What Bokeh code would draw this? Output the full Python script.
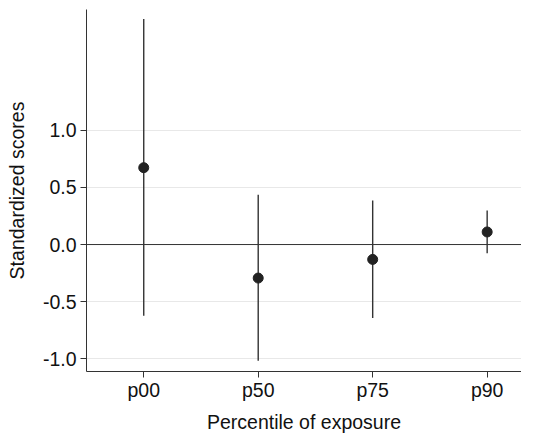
from bokeh.plotting import figure
from bokeh.models import Range1d, FixedTicker, Span, ColumnDataSource
from bokeh.embed import file_html
from bokeh.resources import INLINE

categories = ["p00", "p50", "p75", "p90"]
estimates = [0.672, -0.293, -0.130, 0.110]
lower = [-0.623, -1.015, -0.643, -0.076]
upper = [1.971, 0.435, 0.385, 0.298]
y_ticks = [-1.0, -0.5, 0.0, 0.5, 1.0]
y_tick_labels = ["-1.0", "-0.5", "0.0", "0.5", "1.0"]

x_pos = list(range(len(categories)))
src = ColumnDataSource(dict(x=x_pos, est=estimates, lo=lower, hi=upper))

FONT = "Liberation Sans"
DARK = "#333333"

p = figure(frame_width=435, frame_height=362, output_backend="svg",
           toolbar_location=None,
           x_range=Range1d(-0.5, 3.30), y_range=Range1d(-1.11, 2.055),
           min_border_top=9, min_border_left=86, min_border_right=0,
           min_border_bottom=10)
p.outline_line_color = None
p.background_fill_color = "white"
p.border_fill_color = "white"

p.xgrid.visible = False
p.ygrid.grid_line_color = "#e8e8e8"
p.ygrid.grid_line_width = 1

zero = Span(location=0, dimension="width", line_color=DARK, line_width=1)
p.add_layout(zero)

p.segment(x0="x", y0="lo", x1="x", y1="hi", source=src, line_color=DARK, line_width=1.4)
p.scatter(x="x", y="est", source=src, size=10, fill_color="#222222", line_color="#222222")

p.xaxis.ticker = FixedTicker(ticks=x_pos)
p.xaxis.major_label_overrides = {i: c for i, c in zip(x_pos, categories)}
p.yaxis.ticker = FixedTicker(ticks=y_ticks)
p.yaxis.major_label_overrides = {t: l for t, l in zip(y_ticks, y_tick_labels)}

for ax in (p.xaxis, p.yaxis):
    ax.axis_line_color = DARK
    ax.axis_line_width = 1
    ax.major_tick_line_color = DARK
    ax.major_tick_out = 6
    ax.major_tick_in = 0
    ax.minor_tick_line_color = None
    ax.major_label_text_font = FONT
    ax.major_label_text_font_size = "19.5px"
    ax.major_label_text_color = "#111111"
    ax.axis_label_text_font = FONT
    ax.axis_label_text_font_size = "19.5px"
    ax.axis_label_text_font_style = "normal"
    ax.axis_label_text_color = "#111111"

p.xaxis.axis_label = "Percentile of exposure"
p.yaxis.axis_label = "Standardized scores"
p.xaxis.major_label_standoff = 1
p.xaxis.axis_label_standoff = 7
p.yaxis.major_label_standoff = 4
p.yaxis.axis_label_standoff = 12

open("out.html", "w").write(file_html(p, INLINE))
